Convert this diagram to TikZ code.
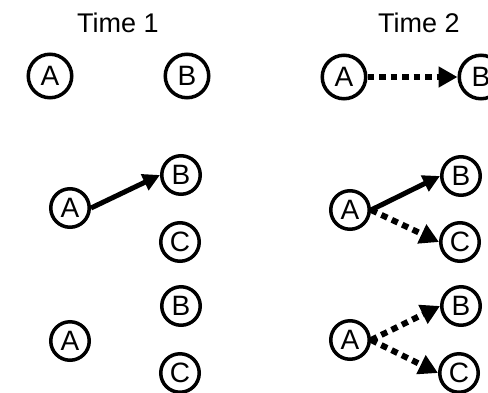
\documentclass[tikz,border=0pt]{standalone}
\usepackage{fontspec}
\setmainfont{Liberation Sans}
\usetikzlibrary{arrows.meta}
\begin{document}
\begin{tikzpicture}[x=1pt,y=-1pt,
  big/.style={circle,draw,line width=3.5pt,minimum size=43.5pt,inner sep=0pt,font=\fontsize{28}{28}\selectfont},
  sml/.style={circle,draw,line width=3.5pt,minimum size=38.5pt,inner sep=0pt,font=\fontsize{28}{28}\selectfont},
  title/.style={font=\fontsize{27}{27}\selectfont,inner sep=0pt,anchor=base},
  solidarr/.style={line width=5pt,-{Triangle[length=17pt,width=17pt]}},
  dotarr/.style={line width=6pt,dash pattern=on 6.5pt off 5pt,-{Triangle[length=19pt,width=20pt]}}]
\useasboundingbox (0,0) rectangle (488,392);
\clip (0,0) rectangle (488,392);
% titles
\node[title] (t1) at (118,32) {Time 1};
\node[title] (t2) at (419,32) {Time 2};
% row 1
\node[big] (a1) at (50,76) {A};
\node[big] (b1) at (187,76) {B};
\node[big] (a2) at (344,77) {A};
\node[big] (b2) at (481,77) {B};
\draw[dotarr] (a2.east) -- (b2.west);
% row 2
\node[sml] (a3) at (70,208) {A};
\node[sml] (b3) at (181,175) {B};
\node[sml] (c3) at (180,242) {C};
\draw[solidarr] (a3.east) -- (b3.west);
\node[sml] (a4) at (350,210) {A};
\node[sml] (b4) at (461,176) {B};
\node[sml] (c4) at (460,242) {C};
\draw[solidarr] (a4.east) -- (b4.west);
\draw[dotarr] (a4.east) -- (c4.west);
% row 3
\node[sml] (a5) at (70,341) {A};
\node[sml] (b5) at (181,306) {B};
\node[sml] (c5) at (180,373) {C};
\node[sml] (a6) at (350,340) {A};
\node[sml] (b6) at (461,306) {B};
\node[sml] (c6) at (459,373) {C};
\draw[dotarr] (a6.east) -- (b6.west);
\draw[dotarr] (a6.east) -- (c6.west);
\end{tikzpicture}
\end{document}
